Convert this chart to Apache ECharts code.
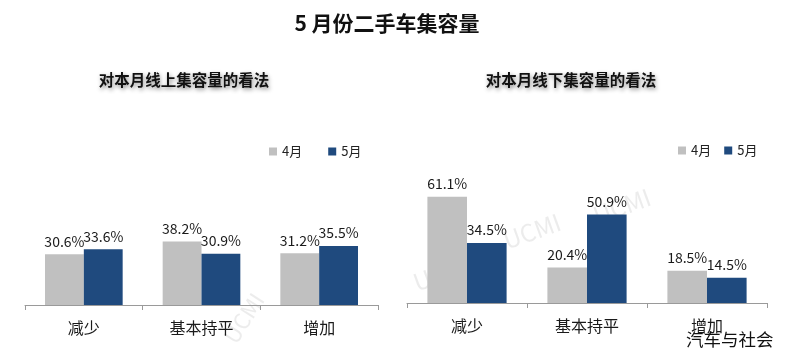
<!DOCTYPE html>
<html><head><meta charset="utf-8">
<script src="https://cdn.jsdelivr.net/npm/echarts@6/dist/echarts.min.js"></script>
<style>html,body{margin:0;padding:0;background:#fff}#c{width:787px;height:358px}</style>
</head><body><div id="c"></div>
<script>
const categories = ['减少', '基本持平', '增加'];
const seriesNames = ['4月', '5月'];
const online4 = [30.6, 38.2, 31.2];
const online5 = [33.6, 30.9, 35.5];
const offline4 = [61.1, 20.4, 18.5];
const offline5 = [34.5, 50.9, 14.5];
const mainTitle = '5 月份二手车集容量';
const leftTitle = '对本月线上集容量的看法';
const rightTitle = '对本月线下集容量的看法';
const source = '汽车与社会';

const FONT = '"Noto Sans CJK SC", "Noto Sans", sans-serif';
const GRAY = '#c0c0c0', NAVY = '#1f4a7e';
const chart = echarts.init(document.getElementById('c'));

function xAx(gi) {
  return {
    type: 'category', gridIndex: gi, data: categories,
    axisLine: {lineStyle: {color: '#9a9a9a', width: 1}},
    axisTick: {show: true, length: 5, lineStyle: {color: '#9a9a9a'}},
    axisLabel: {fontFamily: FONT, fontSize: 16, color: '#1a1a1a', margin: 15}
  };
}
function yAx(gi) {
  return {type: 'value', gridIndex: gi, min: 0, max: 100, show: false, splitLine: {show: false}};
}
function bar(name, data, gi, color) {
  return {
    name: name, type: 'bar', xAxisIndex: gi, yAxisIndex: gi, data: data,
    barGap: '0%', barCategoryGap: '34%',
    itemStyle: {color: color},
    label: {show: true, position: 'top', distance: 6, fontFamily: FONT, fontSize: 14, color: '#1a1a1a',
            formatter: p => p.value.toFixed(1) + '%'}
  };
}
const subStyle = {fontFamily: FONT, fontSize: 15.5, fontWeight: 'bold', color: '#111',
  textShadowColor: 'rgba(0,0,0,0.45)', textShadowBlur: 4, textShadowOffsetX: 1, textShadowOffsetY: 2};

chart.setOption({
  animation: false,
  backgroundColor: '#fff',
  title: [
    {text: mainTitle, left: 382, textAlign: 'center', top: 8, textStyle: {fontFamily: FONT, fontSize: 21, fontWeight: 'bold', color: '#111'}},
    {text: leftTitle, left: 179, textAlign: 'center', top: 67, textStyle: subStyle},
    {text: rightTitle, left: 566, textAlign: 'center', top: 67, textStyle: subStyle}
  ],
  legend: [
    {data: seriesNames, left: 264, top: 140, itemWidth: 8, itemHeight: 8, itemGap: 26, icon: 'rect',
     textStyle: {fontFamily: FONT, fontSize: 13, color: '#222'}},
    {data: seriesNames, left: 673, top: 139, itemWidth: 8, itemHeight: 8, itemGap: 13, icon: 'rect',
     textStyle: {fontFamily: FONT, fontSize: 13, color: '#222'}}
  ],
  grid: [
    {left: 25, width: 353, top: 139, height: 166},
    {left: 407, width: 360, top: 129, height: 174}
  ],
  xAxis: [xAx(0), xAx(1)],
  yAxis: [yAx(0), yAx(1)],
  series: [
    bar(seriesNames[0], online4, 0, GRAY),
    bar(seriesNames[1], online5, 0, NAVY),
    bar(seriesNames[0], offline4, 1, GRAY),
    bar(seriesNames[1], offline5, 1, NAVY)
  ],
  graphic: [
    {type: 'text', left: 686, top: 331, z: 10, style: {text: source, fontFamily: FONT, fontSize: 17.5, fill: '#111'}},
    {type: 'text', x: 410, y: 272, rotation: 0.35, z: 0, silent: true,
     style: {text: 'UCMI', fontFamily: FONT, fontSize: 24, fill: 'rgba(200,200,200,0.35)'}},
    {type: 'text', x: 500, y: 230, rotation: 0.35, z: 0, silent: true,
     style: {text: 'UCMI', fontFamily: FONT, fontSize: 24, fill: 'rgba(200,200,200,0.35)'}},
    {type: 'text', x: 590, y: 205, rotation: 0.35, z: 0, silent: true,
     style: {text: 'UCMI', fontFamily: FONT, fontSize: 24, fill: 'rgba(200,200,200,0.35)'}},
    {type: 'text', x: 220, y: 335, rotation: 1.0, z: 0, silent: true,
     style: {text: 'UCMI', fontFamily: FONT, fontSize: 22, fill: 'rgba(200,200,200,0.35)'}}
  ]
});
</script></body></html>
